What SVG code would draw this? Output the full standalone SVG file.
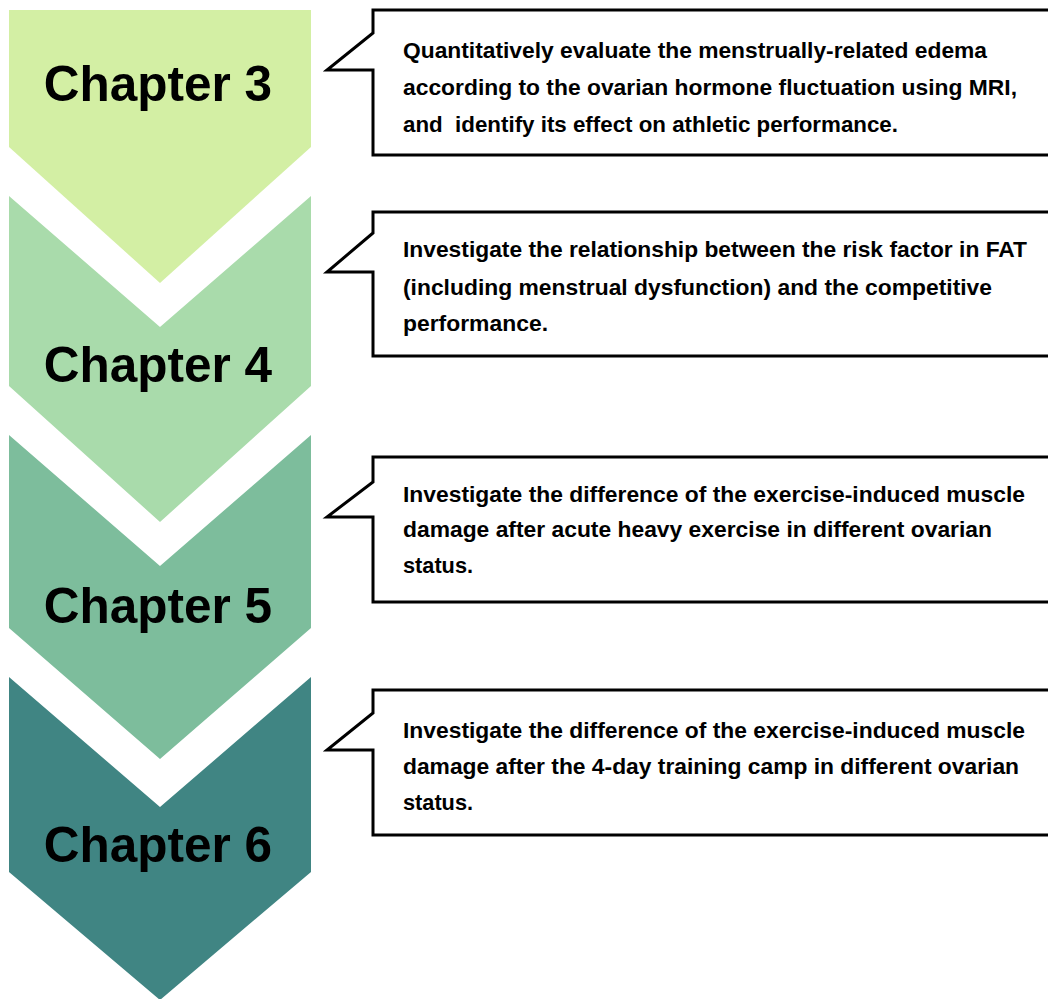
<svg xmlns="http://www.w3.org/2000/svg" width="1048" height="999" viewBox="0 0 1048 999">
  <style>
    .chap { font-family: "Liberation Sans", Arial, sans-serif; font-weight: bold; font-size: 49.5px; fill: #000; text-anchor: middle; }
    .desc { font-family: "Liberation Sans", Arial, sans-serif; font-weight: bold; font-size: 22px; fill: #000; white-space: pre; }
    .callout { fill: #fff; stroke: #000; stroke-width: 3; stroke-linejoin: miter; }
  </style>
  <rect width="1048" height="999" fill="#fff"/>

  <!-- chapter chevrons -->
  <g id="chapter3">
    <polygon points="9,10 311,10 311,147 160,283 9,147" fill="#d3efa4"/>
    <text class="chap" x="158" y="101">Chapter 3</text>
  </g>
  <g id="chapter4">
    <polygon points="9,196 160,327 311,196 311,386 160,522 9,386" fill="#a9dbab"/>
    <text class="chap" x="158" y="382">Chapter 4</text>
  </g>
  <g id="chapter5">
    <polygon points="9,435 160,566 311,435 311,628 160,759 9,628" fill="#7dbd9c"/>
    <text class="chap" x="158" y="623">Chapter 5</text>
  </g>
  <g id="chapter6">
    <polygon points="9,677 160,807 311,677 311,872 160,1000 9,872" fill="#408583"/>
    <text class="chap" x="158" y="862">Chapter 6</text>
  </g>

  <!-- description callouts -->
  <g id="desc3">
    <path class="callout" d="M1052,10 H373 V33 L327,70 H373 V155 H1052"/>
    <text class="desc" x="403" y="58" textLength="584" lengthAdjust="spacingAndGlyphs">Quantitatively evaluate the menstrually-related edema</text>
    <text class="desc" x="403" y="95" textLength="614" lengthAdjust="spacingAndGlyphs">according to the ovarian hormone fluctuation using MRI,</text>
    <text class="desc" x="403" y="132" textLength="495" lengthAdjust="spacingAndGlyphs">and  identify its effect on athletic performance.</text>
  </g>
  <g id="desc4">
    <path class="callout" d="M1052,212 H373 V233 L327,272 H373 V356 H1052"/>
    <text class="desc" x="403" y="257" textLength="624" lengthAdjust="spacingAndGlyphs">Investigate the relationship between the risk factor in FAT</text>
    <text class="desc" x="403" y="295" textLength="589" lengthAdjust="spacingAndGlyphs">(including menstrual dysfunction) and the competitive</text>
    <text class="desc" x="403" y="331" textLength="145" lengthAdjust="spacingAndGlyphs">performance.</text>
  </g>
  <g id="desc5">
    <path class="callout" d="M1052,457 H373 V482 L327,517 H373 V602 H1052"/>
    <text class="desc" x="403" y="502" textLength="622" lengthAdjust="spacingAndGlyphs">Investigate the difference of the exercise-induced muscle</text>
    <text class="desc" x="403" y="537" textLength="589" lengthAdjust="spacingAndGlyphs">damage after acute heavy exercise in different ovarian</text>
    <text class="desc" x="403" y="573" textLength="70" lengthAdjust="spacingAndGlyphs">status.</text>
  </g>
  <g id="desc6">
    <path class="callout" d="M1052,690 H373 V713 L327,750 H373 V835 H1052"/>
    <text class="desc" x="403" y="738" textLength="622" lengthAdjust="spacingAndGlyphs">Investigate the difference of the exercise-induced muscle</text>
    <text class="desc" x="403" y="774" textLength="616" lengthAdjust="spacingAndGlyphs">damage after the 4-day training camp in different ovarian</text>
    <text class="desc" x="403" y="810" textLength="70" lengthAdjust="spacingAndGlyphs">status.</text>
  </g>
</svg>
